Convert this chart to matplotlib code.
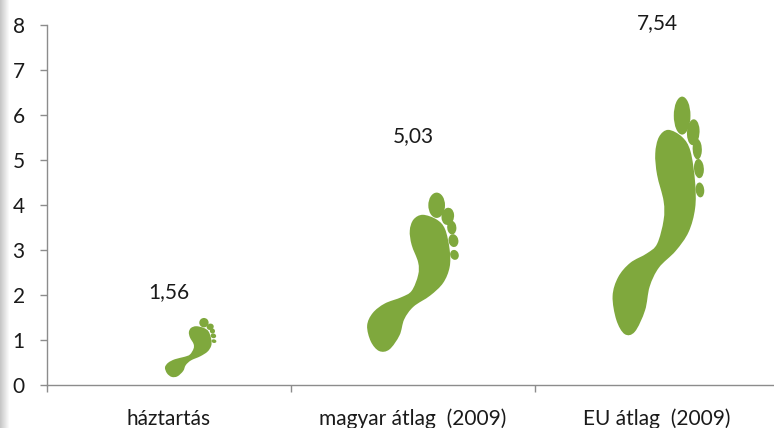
import matplotlib
matplotlib.use('Agg')
import matplotlib.pyplot as plt
import numpy as np
from matplotlib.patches import PathPatch
from matplotlib.path import Path
from matplotlib.transforms import Affine2D

categories = ['háztartás', 'magyar átlag  (2009)', 'EU átlag  (2009)']
values = [1.56, 5.03, 7.54]
value_labels = ['1,56', '5,03', '7,54']
y_ticks = [0, 1, 2, 3, 4, 5, 6, 7, 8]

GREEN = '#7fa83d'
GRAY = '#8c8c8c'
TEXT = '#1a1a1a'

plt.rcParams['font.family'] = ['Lato', 'DejaVu Sans']

# outline of the foot, traced by hand, x and y run 0..1
sole = [(0.60, 0.86), (0.75, 0.83), (0.84, 0.77), (0.89, 0.64), (0.89, 0.53),
        (0.82, 0.43), (0.68, 0.35), (0.50, 0.28), (0.40, 0.20), (0.35, 0.10),
        (0.24, 0.01), (0.13, 0.00), (0.04, 0.06), (0.00, 0.16), (0.06, 0.24),
        (0.19, 0.30), (0.37, 0.34), (0.48, 0.38), (0.55, 0.48), (0.55, 0.56),
        (0.48, 0.67), (0.46, 0.76), (0.50, 0.83)]
# toes: centre x, centre y, width, height, tilt
toes = [(0.75, 0.92, 0.18, 0.16, 0),
        (0.87, 0.85, 0.137, 0.108, 10),
        (0.913, 0.779, 0.10, 0.086, -12),
        (0.931, 0.697, 0.108, 0.08, -10),
        (0.942, 0.607, 0.094, 0.062, -8)]


def sole_path():
    """Closed Catmull-Rom curve through the sole outline"""
    n = len(sole)
    verts = [sole[0]]
    codes = [Path.MOVETO]
    for i in range(n):
        p0, p1, p2, p3 = sole[i - 1], sole[i], sole[(i + 1) % n], sole[(i + 2) % n]
        verts.append((p1[0] + (p2[0] - p0[0]) / 6, p1[1] + (p2[1] - p0[1]) / 6))
        verts.append((p2[0] - (p3[0] - p1[0]) / 6, p2[1] - (p3[1] - p1[1]) / 6))
        verts.append(p2)
        codes += [Path.CURVE4, Path.CURVE4, Path.CURVE4]
    return Path(verts, codes)


def draw_foot(ax, centre, value, width, start, share):
    """Foot starts at start*value on the y axis and is share*value tall"""
    place = Affine2D().scale(width, value * share).translate(centre - width / 2, value * start)
    ax.add_patch(PathPatch(sole_path().transformed(place), fc=GREEN, ec='none'))
    for x, y, w, h, tilt in toes:
        toe = Path.unit_circle().transformed(
            Affine2D().scale(w / 2, h / 2).rotate_deg(tilt).translate(x, y))
        ax.add_patch(PathPatch(toe.transformed(place), fc=GREEN, ec='none'))


fig = plt.figure(figsize=(7.74, 4.28), dpi=100)

# soft gray shadow down the left edge
strip = fig.add_axes([0, 0, 10 / 774, 1])
strip.imshow(np.linspace(0.78, 1, 10).reshape(1, -1), cmap='gray', vmin=0, vmax=1,
             aspect='auto', interpolation='bilinear')
strip.axis('off')

ax = fig.add_axes([47 / 774, 43 / 428, 732 / 774, 360 / 428])
ax.set_xlim(0, 3)
ax.set_ylim(0, 8)

foot_centres = [0.59, 1.502, 2.508]
foot_widths = [0.213, 0.38, 0.38]
foot_starts = [0.115, 0.15, 0.15]
foot_shares = [0.84, 0.70, 0.70]
for i, value in enumerate(values):
    draw_foot(ax, foot_centres[i], value, foot_widths[i], foot_starts[i], foot_shares[i])
    ax.text(i + 0.5, value + 0.5, value_labels[i], ha='center', va='center',
            fontsize=15, color=TEXT)

ax.set_yticks(y_ticks)
ax.set_xticks([0, 1, 2, 3])
ax.set_xticklabels([])
ax.set_xticks([0.5, 1.5, 2.5], minor=True)
ax.set_xticklabels(categories, minor=True)
ax.tick_params(axis='x', which='minor', length=0, pad=17, labelsize=15, labelcolor=TEXT)
ax.tick_params(axis='x', which='major', length=5, width=1, color=GRAY)
ax.tick_params(axis='y', length=5, width=1, color=GRAY, pad=11, labelsize=15, labelcolor=TEXT)
for side in ['top', 'right']:
    ax.spines[side].set_visible(False)
for side in ['left', 'bottom']:
    ax.spines[side].set_color(GRAY)
    ax.spines[side].set_linewidth(1)

fig.savefig('out.png', dpi=100)
